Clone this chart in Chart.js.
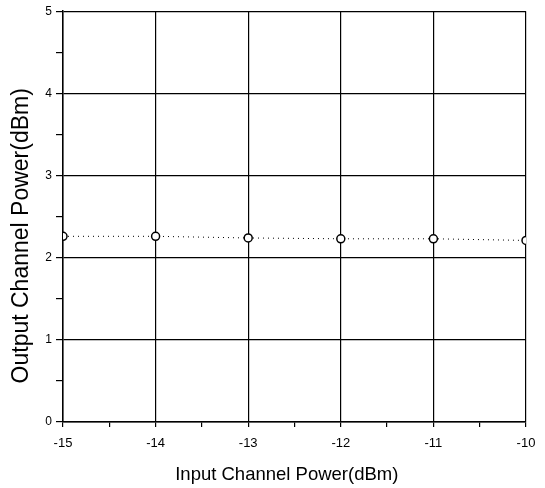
<!DOCTYPE html>
<html>
<head>
<meta charset="utf-8">
<script src="https://cdn.jsdelivr.net/npm/chart.js@4/dist/chart.umd.min.js"></script>
<style>
  html, body { margin: 0; padding: 0; background: #fff; }
  #wrap { width: 545px; height: 488px; }
</style>
</head>
<body>
<div id="wrap"><canvas id="c"></canvas></div>
<script>
// values
var inputPower = [-15, -14, -13, -12, -11, -10];
var outputPower = [2.26, 2.26, 2.24, 2.23, 2.23, 2.21];

var isWhole = function (v) { return Math.abs(v - Math.round(v)) < 1e-6; };
var gridColor = function (ctx) {
  return ctx.tick && isWhole(ctx.tick.value) ? '#000' : 'rgba(0,0,0,0)';
};

var ctx = document.getElementById('c').getContext('2d');
var chart = new Chart(ctx, {
  type: 'scatter',
  data: {
    datasets: [{
      label: 'output',
      data: inputPower.map(function (x, i) { return { x: x, y: outputPower[i] }; }),
      showLine: true,
      borderColor: '#000',
      borderWidth: 1,
      borderDash: [1, 4],
      pointRadius: 4,
      pointBorderWidth: 1.5,
      pointBorderColor: '#000',
      pointBackgroundColor: '#fff'
    }]
  },
  options: {
    responsive: true,
    maintainAspectRatio: false,
    animation: false,
    layout: { padding: { top: 11, right: 19, left: 0, bottom: 0 } },
    plugins: { legend: { display: false }, tooltip: { enabled: false } },
    scales: {
      x: {
        type: 'linear',
        min: -15, max: -10,
        ticks: {
          stepSize: 0.5,
          color: '#000',
          font: { family: 'Liberation Sans', size: 13 },
          padding: 9,
          maxRotation: 0,
          callback: function (v) { return isWhole(v) ? String(v) : ''; }
        },
        grid: { color: gridColor, tickColor: '#000', tickLength: 5, lineWidth: 1.2 },
        border: { color: '#000', width: 1.5 },
        title: {
          display: true,
          text: 'Input Channel Power(dBm)\u00a0\u00a0\u00a0',
          color: '#000',
          font: { family: 'Liberation Sans', size: 18.5 },
          padding: { top: 0, bottom: 2 }
        },
        afterFit: function (s) { s.height = 66; }
      },
      y: {
        type: 'linear',
        min: 0, max: 5,
        ticks: {
          stepSize: 0.5,
          color: '#000',
          font: { family: 'Liberation Sans', size: 12 },
          padding: 4,
          callback: function (v) { return isWhole(v) ? String(v) : ''; }
        },
        grid: { color: gridColor, tickColor: '#000', tickLength: 7, lineWidth: 1.2 },
        border: { color: '#000', width: 1.5 },
        title: {
          display: true,
          text: 'Output Channel Power(dBm)\u00a0\u00a0\u00a0\u00a0\u00a0\u00a0',
          color: '#000',
          font: { family: 'Liberation Sans', size: 23 },
          padding: { top: 8, bottom: 0 }
        },
        afterFit: function (s) { s.width = 63; }
      }
    }
  }
});
</script>
</body>
</html>
